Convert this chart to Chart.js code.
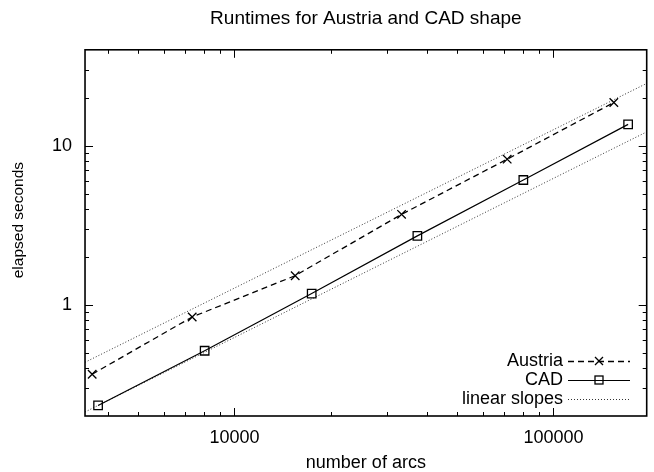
<!DOCTYPE html>
<html>
<head>
<meta charset="utf-8">
<script src="https://cdn.jsdelivr.net/npm/chart.js@4.4.0/dist/chart.umd.min.js"></script>
<style>
  body { margin: 0; background: #fff; }
  canvas { display: block; }
</style>
</head>
<body>
<canvas id="runtimeChart" width="654" height="472"></canvas>
<script>
// values
const austriaArcs = [3580, 7370, 15500, 33400, 71600, 154600];
const austriaSecs = [0.366, 0.838, 1.523, 3.70, 8.22, 18.65];
const cadArcs     = [3736, 8063, 17460, 37440, 80450, 171400];
const cadSecs     = [0.233, 0.514, 1.176, 2.71, 6.08, 13.6];
const slopeArcs      = [3400, 196000];
const slopeUpperSecs = [0.435, 24.6];
const slopeLowerSecs = [0.212, 12.2];
const xMajorTicks = [10000, 100000];
const yMajorTicks = [1, 10];
const legendNames = ['Austria', 'CAD', 'linear slopes'];
const yTitle = 'elapsed seconds';

Chart.defaults.font.family = "'Liberation Sans', Arial, sans-serif";
Chart.defaults.color = '#000';

function puntos(xs, ys) {
    return xs.map((x, i) => ({ x: x, y: ys[i] }));
}

// minor ticks 2..9 in every decade between min and max
function minorTicks(min, max) {
    const out = [];
    for (let d = Math.floor(Math.log10(min)); d <= Math.ceil(Math.log10(max)); d++) {
        for (let k = 2; k <= 9; k++) {
            const v = k * Math.pow(10, d);
            if (v > min && v < max) out.push(v);
        }
    }
    return out;
}

// gnuplot style frame with inward ticks on all four sides
const marcoPlugin = {
    id: 'marco',
    afterDatasetsDraw(chart) {
        const ctx = chart.ctx;
        const a = chart.chartArea;
        const xs = chart.scales.x, ys = chart.scales.y;
        ctx.save();
        ctx.strokeStyle = '#000';
        ctx.lineWidth = 1;
        const major = 8, minor = 4;
        const tickX = (v, len) => {
            const px = Math.round(xs.getPixelForValue(v)) + 0.5;
            ctx.beginPath();
            ctx.moveTo(px, a.bottom); ctx.lineTo(px, a.bottom - len);
            ctx.moveTo(px, a.top);    ctx.lineTo(px, a.top + len);
            ctx.stroke();
        };
        const tickY = (v, len) => {
            const py = Math.round(ys.getPixelForValue(v)) + 0.5;
            ctx.beginPath();
            ctx.moveTo(a.left, py);  ctx.lineTo(a.left + len, py);
            ctx.moveTo(a.right, py); ctx.lineTo(a.right - len, py);
            ctx.stroke();
        };
        xMajorTicks.forEach(v => tickX(v, major));
        minorTicks(xs.min, xs.max).forEach(v => tickX(v, minor));
        yMajorTicks.forEach(v => tickY(v, major));
        minorTicks(ys.min, ys.max).forEach(v => tickY(v, minor));

        ctx.lineWidth = 1.6;
        ctx.strokeRect(a.left, a.top, a.right - a.left, a.bottom - a.top);
        ctx.restore();
    }
};

// key in the lower right corner (text right aligned, sample on the right) and the y label,
// which gnuplot puts a bit above the middle of the frame
const leyendaPlugin = {
    id: 'leyenda',
    afterDraw(chart) {
        const ctx = chart.ctx;
        const textRight = 563, x0 = 568, x1 = 630, xm = 599;
        const rows = [361, 380, 399];
        ctx.save();
        ctx.font = "18px 'Liberation Sans', Arial, sans-serif";
        ctx.textAlign = 'right';
        ctx.textBaseline = 'middle';
        legendNames.forEach((name, i) => {
            const ds = chart.data.datasets[i];
            const y = rows[i];
            ctx.fillStyle = '#000';
            ctx.fillText(name, textRight, y);
            ctx.strokeStyle = ds.borderColor;
            ctx.lineWidth = ds.borderWidth;
            ctx.setLineDash(ds.borderDash || []);
            ctx.beginPath(); ctx.moveTo(x0, y + 0.5); ctx.lineTo(x1, y + 0.5); ctx.stroke();
            ctx.setLineDash([]);
            ctx.lineWidth = 1.3;
            ctx.strokeStyle = '#000';
            if (ds.pointStyle === 'crossRot') {
                ctx.beginPath();
                ctx.moveTo(xm - 4, y - 4); ctx.lineTo(xm + 4, y + 4);
                ctx.moveTo(xm - 4, y + 4); ctx.lineTo(xm + 4, y - 4);
                ctx.stroke();
            } else if (ds.pointStyle === 'rect') {
                ctx.strokeRect(xm - 4, y - 4, 8, 8);
            }
        });

        const a = chart.chartArea;
        ctx.translate(19, a.top + (a.bottom - a.top) * 0.465);
        ctx.rotate(-Math.PI / 2);
        ctx.font = "15.5px 'Liberation Sans', Arial, sans-serif";
        ctx.textAlign = 'center';
        ctx.fillText(yTitle, 0, 0);
        ctx.restore();
    }
};

const ctx = document.getElementById('runtimeChart').getContext('2d');
new Chart(ctx, {
    type: 'line',
    data: {
        datasets: [
            { label: 'Austria', data: puntos(austriaArcs, austriaSecs), borderColor: '#000', borderWidth: 1.3,
              borderDash: [6, 4], pointStyle: 'crossRot', pointRadius: 6, pointBorderWidth: 1.3,
              pointBorderColor: '#000', backgroundColor: 'rgba(0,0,0,0)', tension: 0 },
            { label: 'CAD', data: puntos(cadArcs, cadSecs), borderColor: '#000', borderWidth: 1.2,
              pointStyle: 'rect', pointRadius: 6, pointBorderWidth: 1.3,
              pointBorderColor: '#000', backgroundColor: 'rgba(0,0,0,0)', tension: 0 },
            { label: 'linear slopes', data: puntos(slopeArcs, slopeUpperSecs), borderColor: 'rgba(0,0,0,0.8)',
              borderWidth: 1, borderDash: [1, 2], pointRadius: 0, tension: 0 },
            { label: 'linear slopes 2', data: puntos(slopeArcs, slopeLowerSecs), borderColor: 'rgba(0,0,0,0.8)',
              borderWidth: 1, borderDash: [1, 2], pointRadius: 0, tension: 0 }
        ]
    },
    options: {
        responsive: false,
        animation: false,
        devicePixelRatio: 1,
        layout: { padding: { left: 39, right: 2, top: 0, bottom: 0 } },
        plugins: {
            legend: { display: false },
            tooltip: { enabled: false },
            title: {
                display: true,
                fullSize: false,
                text: 'Runtimes for Austria and CAD shape',
                font: { size: 19, weight: 'normal' },
                color: '#000',
                padding: { top: 7, bottom: 20 }
            }
        },
        scales: {
            x: {
                type: 'logarithmic',
                min: 3400, max: 196000,
                afterBuildTicks: axis => { axis.ticks = xMajorTicks.map(v => ({ value: v })); },
                ticks: { font: { size: 18, lineHeight: 1 }, color: '#000', padding: 13, maxRotation: 0,
                         callback: v => String(v) },
                grid: { display: false, drawTicks: false },
                border: { display: false },
                title: { display: true, text: 'number of arcs', font: { size: 18, lineHeight: 1 }, color: '#000',
                         padding: { top: -6, bottom: 0 } }
            },
            y: {
                type: 'logarithmic',
                min: 0.2, max: 40,
                afterBuildTicks: axis => { axis.ticks = yMajorTicks.map(v => ({ value: v })); },
                ticks: { font: { size: 18 }, color: '#000', padding: 13, callback: v => String(v) },
                grid: { display: false, drawTicks: false },
                border: { display: false },
                title: { display: false }
            }
        }
    },
    plugins: [marcoPlugin, leyendaPlugin]
});
</script>
</body>
</html>
